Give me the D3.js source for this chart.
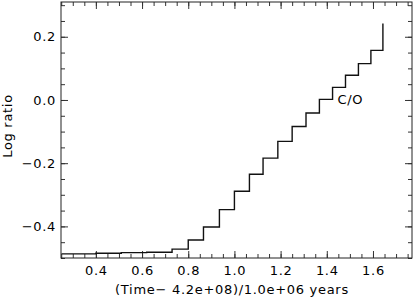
<!DOCTYPE html>
<html>
<head>
<meta charset="utf-8">
<script src="https://cdn.jsdelivr.net/npm/d3@7"></script>
<style>
  body { margin: 0; background: #fff; }
  text { font-family: "DejaVu Sans", sans-serif; fill: #000; letter-spacing: 0.7px; }
</style>
</head>
<body>
<svg id="chart" width="413" height="302"></svg>
<script>
// step edges (x) and level that starts at each edge (y)
let stepX = [0.251, 0.40, 0.51, 0.62, 0.73, 0.80, 0.866, 0.935, 1.0, 1.065, 1.124,
             1.188, 1.250, 1.310, 1.368, 1.425, 1.481, 1.537, 1.591, 1.643];
let stepY = [-0.487, -0.485, -0.483, -0.482, -0.472, -0.443, -0.402, -0.347, -0.289, -0.235, -0.184,
             -0.131, -0.084, -0.041, 0.002, 0.040, 0.078, 0.115, 0.157, 0.242];
let xTicks = [0.4, 0.6, 0.8, 1.0, 1.2, 1.4, 1.6];
let yTicks = [-0.4, -0.2, 0.0, 0.2];
let label = "C/O";

let margin = {top: 2, right: 1, bottom: 44, left: 61},
    width = 413 - margin.left - margin.right,
    height = 302 - margin.top - margin.bottom;

let svg = d3.select("#chart");
let g = svg.append("g")
    .attr("transform", "translate(" + margin.left + "," + margin.top + ")");

let x = d3.scaleLinear().domain([0.249, 1.769]).range([0, width]);
let y = d3.scaleLinear().domain([-0.5, 0.31]).range([height, 0]);

let fmt = d3.format(".1f");
let minorX = d3.range(0.25, 1.76, 0.05);
let minorY = d3.range(-0.5, 0.31, 0.05);

// inward ticks on all four sides
function tickAxis(axis, scale, major, minor, transform, fmtFn, pad) {
    let ga = g.append("g").attr("transform", transform);
    ga.call(axis(scale).tickValues(minor).tickSize(-4).tickFormat(""));
    ga.select(".domain").remove();
    let gm = g.append("g").attr("transform", transform);
    gm.call(axis(scale).tickValues(major).tickSize(-7).tickPadding(pad)
        .tickFormat(fmtFn ? fmtFn : ""));
    gm.select(".domain").remove();
    gm.selectAll("text").style("font-size", "13px")
        .style("font-family", "'DejaVu Sans', sans-serif");
    return gm;
}
function minus(d) { return fmt(d).replace("-", "\u2212"); }

tickAxis(d3.axisBottom, x, xTicks, minorX, "translate(0," + height + ")", minus, 8);
tickAxis(d3.axisTop, x, xTicks, minorX, "translate(0,0)", null, 8);
tickAxis(d3.axisLeft, y, yTicks, minorY, "translate(0,0)", minus, 5);
tickAxis(d3.axisRight, y, yTicks, minorY, "translate(" + width + ",0)", null, 5);

g.selectAll(".tick line").attr("stroke", "#333");

g.append("rect")
    .attr("width", width).attr("height", height)
    .attr("fill", "none").attr("stroke", "#222").attr("stroke-width", 1);

let pts = stepX.map(function(d, i) { return [d, stepY[i]]; });
let line = d3.line()
    .x(function(d) { return x(d[0]); })
    .y(function(d) { return y(d[1]); })
    .curve(d3.curveStepAfter);

g.append("path")
    .datum(pts)
    .attr("d", line)
    .attr("fill", "none")
    .attr("stroke", "#111")
    .attr("stroke-width", 1.4);

g.append("text")
    .attr("x", x(1.446))
    .attr("y", y(-0.012))
    .style("font-size", "13px")
    .text(label);

svg.append("text")
    .attr("x", 232)
    .attr("y", 294)
    .attr("text-anchor", "middle")
    .style("font-size", "13px")
    .text("(Time\u2212 4.2e+08)/1.0e+06 years");

svg.append("text")
    .attr("transform", "translate(12," + (margin.top + height / 2 - 4) + ") rotate(-90)")
    .attr("text-anchor", "middle")
    .style("font-size", "13px")
    .text("Log ratio");
</script>
</body>
</html>
